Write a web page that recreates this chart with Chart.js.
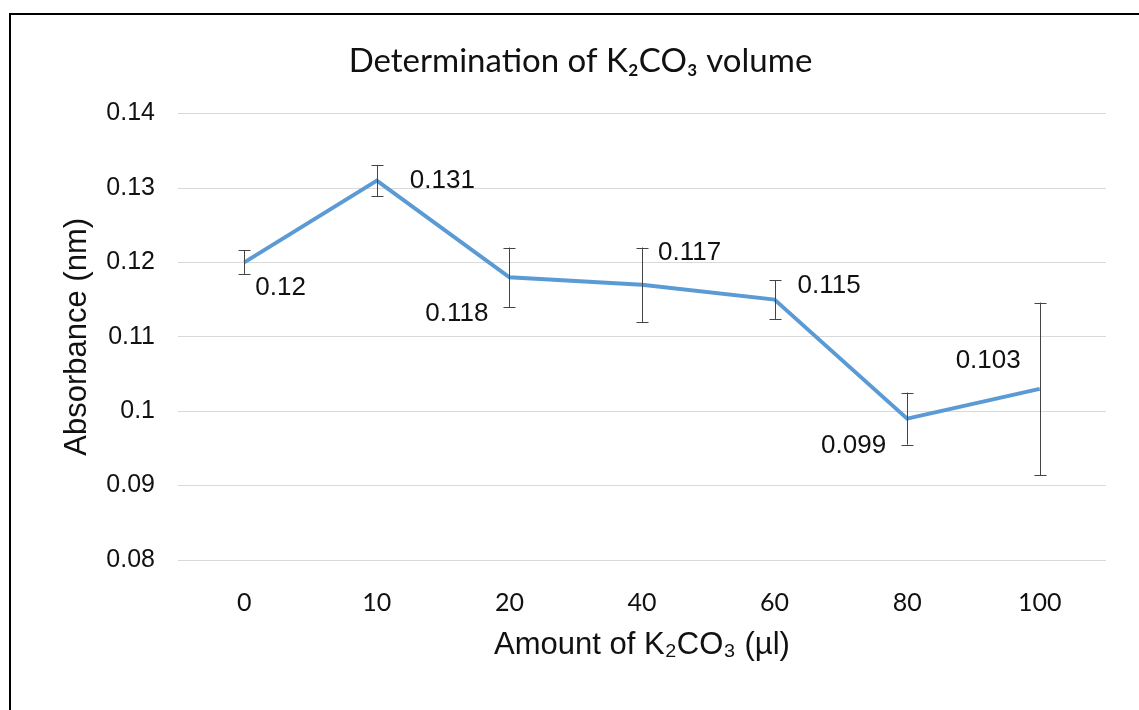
<!DOCTYPE html>
<html lang="en">
<head>
    <meta charset="UTF-8">
    <title>Determination of K2CO3 volume</title>
    <script src="https://cdn.jsdelivr.net/npm/chart.js"></script>
    <style>
        html, body {
            margin: 0;
            padding: 0;
            background: #fff;
            overflow: hidden;
            width: 1139px;
            height: 710px;
        }
        .frame {
            position: absolute;
            left: 9px;
            top: 13px;
            width: 1300px;
            height: 900px;
            border-left: 2px solid #000;
            border-top: 2px solid #000;
        }
        .chart-box {
            position: absolute;
            left: 0;
            top: 0;
            width: 1161px;
            height: 710px;
        }
    </style>
</head>
<body>
    <div class="frame"></div>
    <div class="chart-box">
        <canvas id="absChart" width="1161" height="710"></canvas>
    </div>

    <script>
        // Data
        const amounts = ['0', '10', '20', '40', '60', '80', '100'];
        const absorbance = [0.12, 0.131, 0.118, 0.117, 0.115, 0.099, 0.103];
        const errors = [0.0016, 0.0021, 0.004, 0.005, 0.0026, 0.0035, 0.0116];

        const armFont = "'Liberation Sans', Arial, sans-serif";
        const calFont = "Lato, 'Open Sans', sans-serif";

        // Error bars + value labels drawn on top of the line
        const extrasPlugin = {
            id: 'extras',
            afterDatasetsDraw(chart, args, opts) {
                const ctx = chart.ctx;
                const y = chart.scales.y;
                const meta = chart.getDatasetMeta(0);
                ctx.save();
                ctx.strokeStyle = opts.barColor;
                ctx.lineWidth = 1;
                meta.data.forEach((pt, i) => {
                    const x = Math.round(pt.x) + 0.5;
                    const top = y.getPixelForValue(absorbance[i] + errors[i]);
                    const bot = y.getPixelForValue(absorbance[i] - errors[i]);
                    ctx.beginPath();
                    ctx.moveTo(x, top); ctx.lineTo(x, bot);
                    ctx.moveTo(x - 6, Math.round(top) + 0.5); ctx.lineTo(x + 6, Math.round(top) + 0.5);
                    ctx.moveTo(x - 6, Math.round(bot) + 0.5); ctx.lineTo(x + 6, Math.round(bot) + 0.5);
                    ctx.stroke();
                });
                ctx.fillStyle = opts.labelColor;
                ctx.font = opts.labelFont;
                ctx.textBaseline = 'middle';
                meta.data.forEach((pt, i) => {
                    const [dx, dy, align] = opts.nudge[i];
                    ctx.textAlign = align;
                    ctx.fillText(String(absorbance[i]), pt.x + dx, pt.y + dy);
                });
                ctx.restore();
            }
        };

        new Chart(document.getElementById('absChart'), {
            type: 'line',
            data: {
                labels: amounts,
                datasets: [{
                    data: absorbance,
                    borderColor: '#5b9bd5',
                    borderWidth: 4,
                    pointRadius: 0,
                    tension: 0,
                    fill: false
                }]
            },
            plugins: [extrasPlugin],
            options: {
                responsive: false,
                animation: false,
                layout: { padding: { left: 55, right: 55, top: 0, bottom: 0 } },
                plugins: {
                    legend: { display: false },
                    tooltip: { enabled: false },
                    title: {
                        display: true,
                        text: 'Determination of K₂CO₃ volume',
                        color: '#111',
                        font: { family: calFont, size: 33, weight: 'normal' },
                        padding: { top: 42, bottom: 32 }
                    },
                    extras: {
                        barColor: '#444',
                        labelColor: '#111',
                        labelFont: '26px ' + armFont,
                        nudge: [[11, 25, 'left'], [33, 0, 'left'], [-21, 37, 'right'], [16, -32, 'left'],
                                [23, -14, 'left'], [-21, 27, 'right'], [-19, -28, 'right']]
                    }
                },
                scales: {
                    x: {
                        offset: true,
                        afterFit: (s) => { s.height = 150; },
                        grid: { display: false, drawTicks: false },
                        border: { display: false },
                        ticks: {
                            padding: 28,
                            color: '#111',
                            font: { family: calFont, size: 25 }
                        },
                        title: {
                            display: true,
                            text: 'Amount of K₂CO₃ (µl)',
                            color: '#111',
                            font: { family: armFont, size: 31 },
                            padding: { top: 0, bottom: 46 }
                        }
                    },
                    y: {
                        min: 0.08,
                        max: 0.14,
                        afterFit: (s) => { s.width = 123; },
                        grid: { color: '#d9d9d9', lineWidth: 1, drawTicks: false },
                        border: { display: false },
                        ticks: {
                            stepSize: 0.01,
                            padding: 23,
                            color: '#111',
                            font: { family: armFont, size: 25 },
                            callback: (v) => String(Math.round(v * 1000) / 1000)
                        },
                        title: {
                            display: true,
                            text: 'Absorbance (nm)',
                            color: '#111',
                            font: { family: armFont, size: 31 },
                            padding: { top: 4, bottom: 0 }
                        }
                    }
                }
            }
        });
    </script>
</body>
</html>
